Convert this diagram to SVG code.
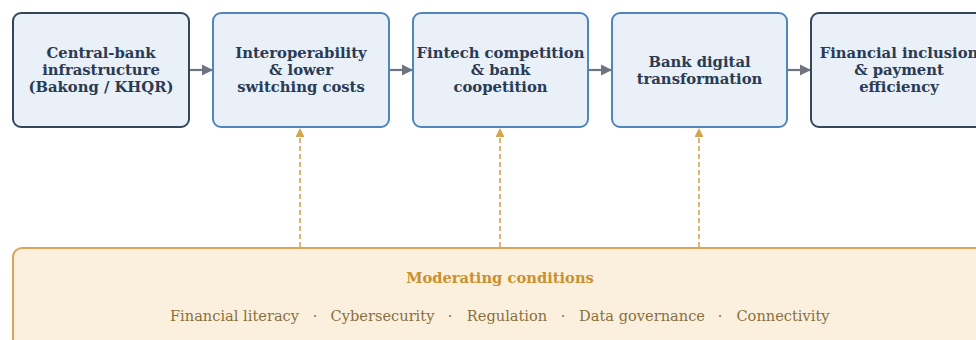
<svg xmlns="http://www.w3.org/2000/svg" width="976" height="340" viewBox="0 0 976 340">
  <defs>
    <marker id="arrowGray" viewBox="0 0 10 10" refX="9" refY="5" markerWidth="5.2" markerHeight="5.2" orient="auto" markerUnits="strokeWidth">
      <path d="M0,0 L10,5 L0,10 z" fill="#6e7580"/>
    </marker>
    <marker id="arrowGold" viewBox="0 0 10 10" refX="9" refY="5" markerWidth="5.5" markerHeight="5.5" orient="auto" markerUnits="strokeWidth">
      <path d="M0,0 L10,5 L0,10 z" fill="#d4a44f"/>
    </marker>
  </defs>
  <style>
    .box { fill: #e9f0f8; stroke-width: 2; }
    .edge { stroke: #34465a; }
    .mid { stroke: #4f86be; }
    .lbl { font-family: "DejaVu Serif", "Liberation Serif", serif; font-size: 14.8px; font-weight: bold; fill: #2a3b53; text-anchor: middle; }
    .flow { stroke: #6e7580; stroke-width: 2.2; fill: none; }
    .mod { stroke: #d4a44f; stroke-width: 1.6; stroke-dasharray: 5 3; fill: none; }
    .modbox { fill: #faf0dd; stroke: #d9a655; stroke-width: 2; }
    .modtitle { font-family: "DejaVu Serif", "Liberation Serif", serif; font-size: 14.7px; font-weight: bold; fill: #c9922e; text-anchor: middle; }
    .cond { font-family: "DejaVu Serif", "Liberation Serif", serif; font-size: 14.6px; fill: #8b6f3e; text-anchor: middle; }
  </style>
  <rect width="976" height="340" fill="#ffffff"/>

  <!-- moderating conditions panel -->
  <g id="moderators">
    <rect class="modbox" x="13" y="248" width="974" height="110" rx="9"/>
    <text class="modtitle" x="500" y="283">Moderating conditions</text>
    <text class="cond" x="234.5" y="321">Financial literacy</text>
    <text class="cond" x="315" y="321">·</text>
    <text class="cond" x="382.5" y="321">Cybersecurity</text>
    <text class="cond" x="450" y="321">·</text>
    <text class="cond" x="507" y="321">Regulation</text>
    <text class="cond" x="563" y="321">·</text>
    <text class="cond" x="642" y="321">Data governance</text>
    <text class="cond" x="720" y="321">·</text>
    <text class="cond" x="783" y="321">Connectivity</text>
  </g>

  <!-- connectors -->
  <g id="connectors">
    <line class="flow" x1="190" y1="70" x2="212" y2="70" marker-end="url(#arrowGray)"/>
    <line class="flow" x1="390" y1="70" x2="412" y2="70" marker-end="url(#arrowGray)"/>
    <line class="flow" x1="589" y1="70" x2="611" y2="70" marker-end="url(#arrowGray)"/>
    <line class="flow" x1="788" y1="70" x2="810" y2="70" marker-end="url(#arrowGray)"/>
    <line class="mod" x1="300" y1="247" x2="300" y2="129" marker-end="url(#arrowGold)"/>
    <line class="mod" x1="500" y1="247" x2="500" y2="129" marker-end="url(#arrowGold)"/>
    <line class="mod" x1="699" y1="247" x2="699" y2="129" marker-end="url(#arrowGold)"/>
  </g>

  <g id="infrastructure">
    <rect class="box edge" x="13" y="13" width="176" height="114" rx="8"/>
    <text class="lbl" x="101" y="58">Central-bank</text>
    <text class="lbl" x="101" y="75">infrastructure</text>
    <text class="lbl" x="101" y="92">(Bakong / KHQR)</text>
  </g>

  <g id="interoperability">
    <rect class="box mid" x="213" y="13" width="176" height="114" rx="8"/>
    <text class="lbl" x="301" y="58">Interoperability</text>
    <text class="lbl" x="301" y="75">&amp; lower</text>
    <text class="lbl" x="301" y="92">switching costs</text>
  </g>

  <g id="competition">
    <rect class="box mid" x="413" y="13" width="175" height="114" rx="8"/>
    <text class="lbl" x="500.5" y="58">Fintech competition</text>
    <text class="lbl" x="500.5" y="75">&amp; bank</text>
    <text class="lbl" x="500.5" y="92">coopetition</text>
  </g>

  <g id="transformation">
    <rect class="box mid" x="612" y="13" width="175" height="114" rx="8"/>
    <text class="lbl" x="699.5" y="67">Bank digital</text>
    <text class="lbl" x="699.5" y="84">transformation</text>
  </g>

  <g id="inclusion">
    <rect class="box edge" x="811" y="13" width="176" height="114" rx="8"/>
    <text class="lbl" x="899" y="58">Financial inclusion</text>
    <text class="lbl" x="899" y="75">&amp; payment</text>
    <text class="lbl" x="899" y="92">efficiency</text>
  </g>
</svg>
